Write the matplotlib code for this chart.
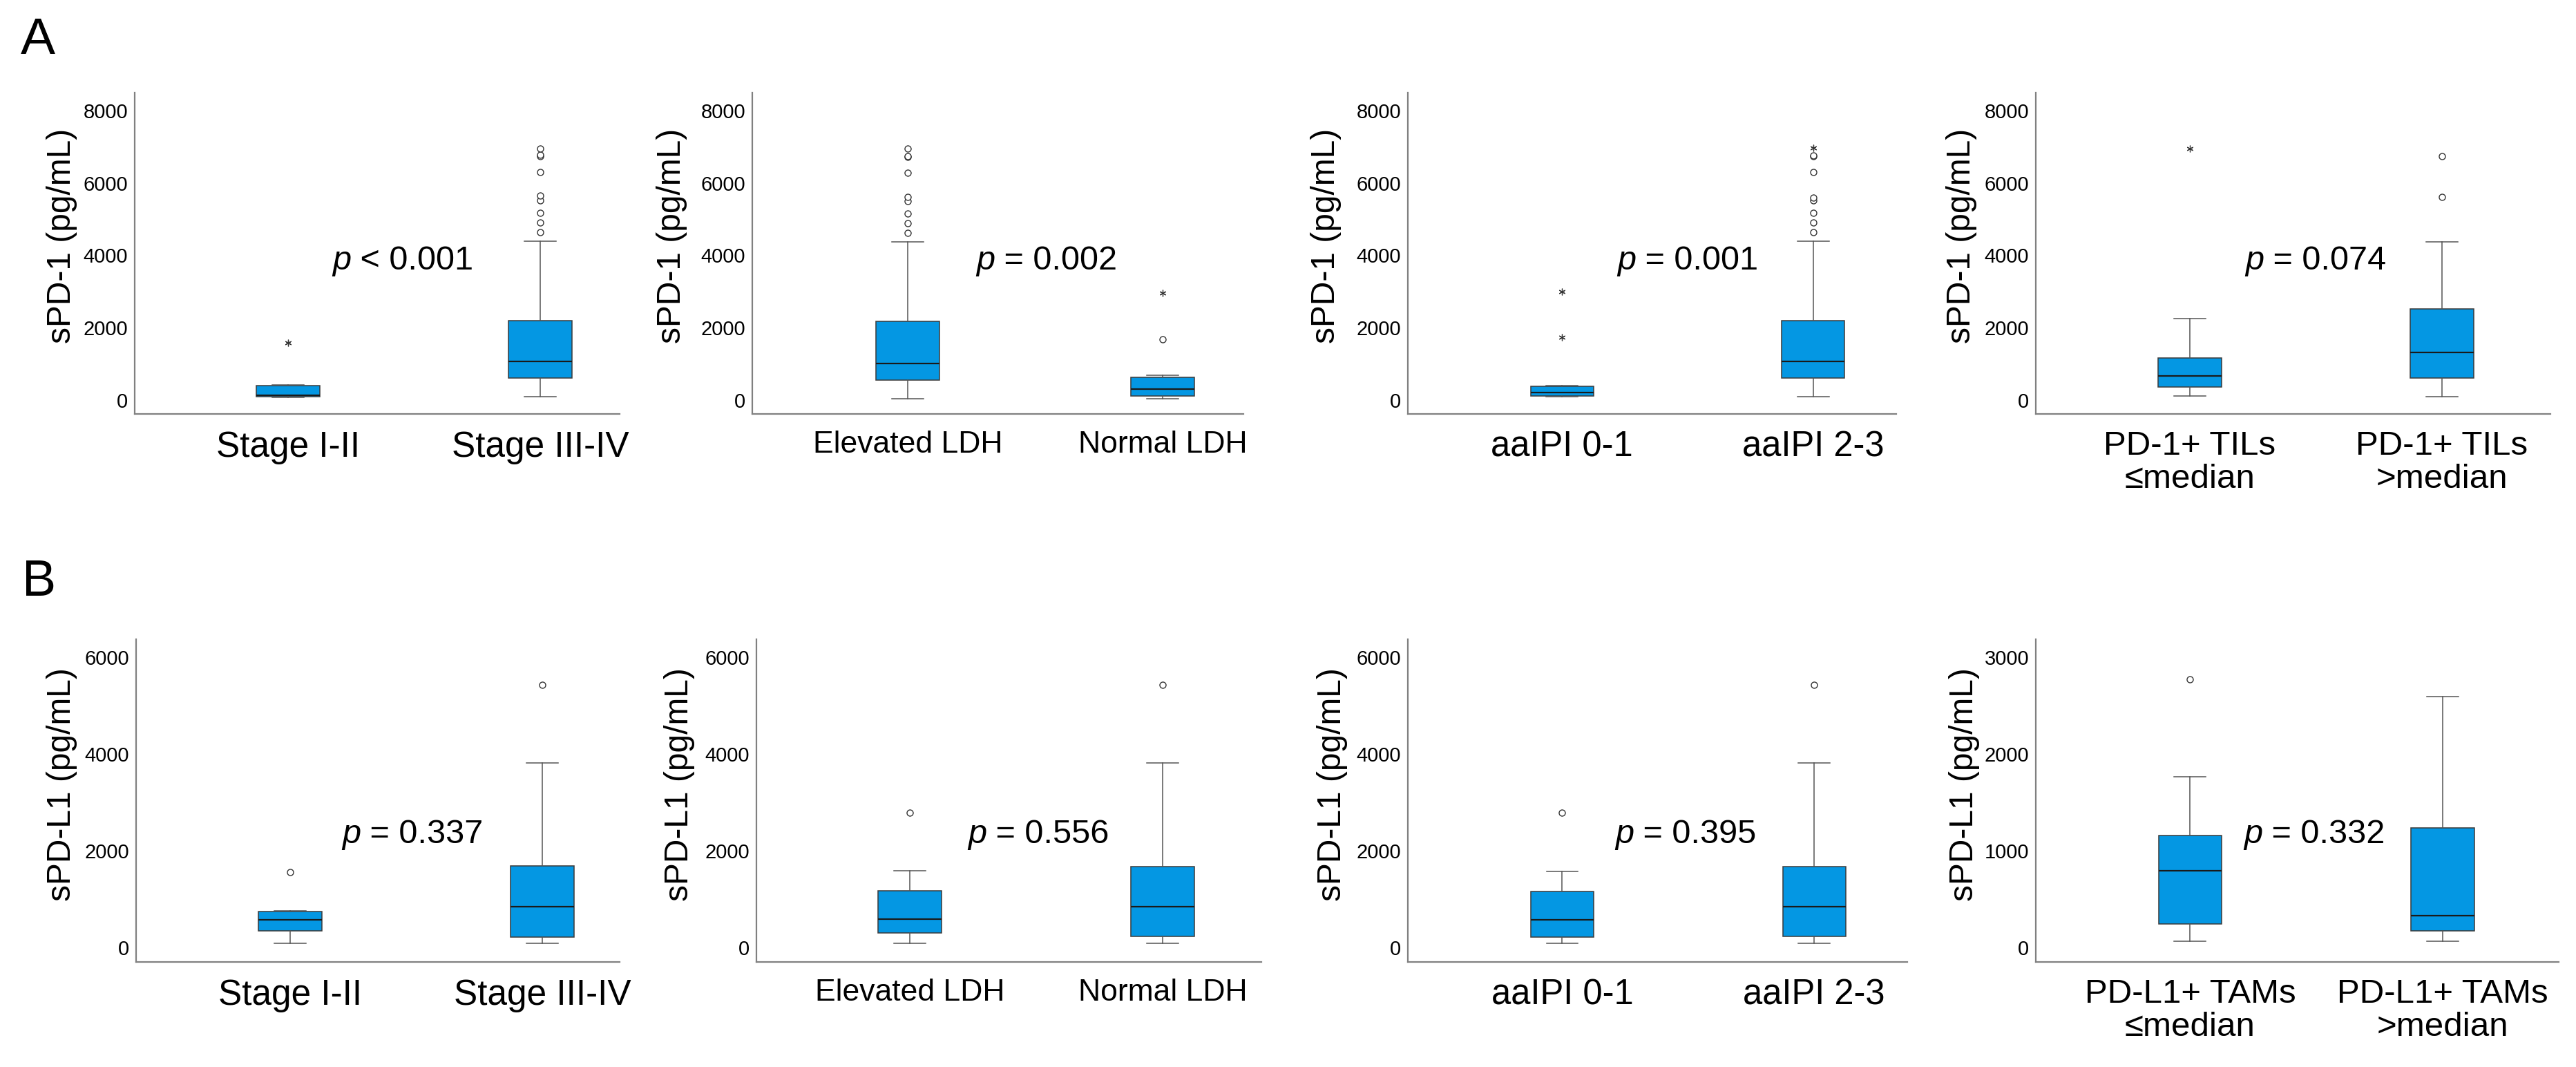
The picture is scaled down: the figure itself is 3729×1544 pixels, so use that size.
import matplotlib
matplotlib.use('Agg')
import matplotlib.pyplot as plt

W, H = 3729, 1544
plt.rcParams['font.family'] = ['Liberation Sans', 'DejaVu Sans']

# ---- values ----
# each box: [lower whisker, q1, median, q3, upper whisker]
stage_labels = ['Stage I-II', 'Stage III-IV']
ldh_labels = ['Elevated LDH', 'Normal LDH']
ipi_labels = ['aaIPI 0-1', 'aaIPI 2-3']
tils_labels = ['PD-1+ TILs\n≤median', 'PD-1+ TILs\n>median']
tams_labels = ['PD-L1+ TAMs\n≤median', 'PD-L1+ TAMs\n>median']

# A: sPD-1
a_stage_box = [[79, 96, 140, 394, 411], [88, 613, 1068, 2197, 4394]]
a_stage_out = [[], [4639, 4910, 5182, 5523, 5646, 6293, 6740, 6783, 6958]]
a_stage_ext = [[1575], []]

a_ldh_box = [[40, 560, 1015, 2171, 4376], [40, 123, 306, 639, 691]]
a_ldh_out = [[4613, 4884, 5164, 5505, 5619, 6276, 6720, 6745, 6958], [1680]]
a_ldh_ext = [[], [2958]]

a_ipi_box = [[88, 105, 219, 376, 394], [88, 613, 1068, 2197, 4394]]
a_ipi_out = [[], [4639, 4910, 5182, 5514, 5602, 6293, 6731, 6766]]
a_ipi_ext = [[1733, 3002], [6976]]

a_tils_box = [[105, 359, 665, 1155, 2249], [88, 613, 1313, 2512, 4376]]
a_tils_out = [[], [5619, 6748]]
a_tils_ext = [[6958], []]

# B: sPD-L1
b_stage_box = [[86, 343, 565, 744, 758], [86, 215, 844, 1681, 3819]]
b_stage_out = [[1559], [5435]]

b_ldh_box = [[86, 300, 579, 1166, 1588], [86, 229, 844, 1666, 3819]]
b_ldh_out = [[2789], [5435]]

b_ipi_box = [[86, 215, 565, 1151, 1566], [86, 229, 844, 1666, 3819]]
b_ipi_out = [[2789], [5435]]

b_tams_box = [[64, 240, 794, 1155, 1763], [64, 168, 329, 1234, 2592]]
b_tams_out = [[2775], []]

p_values = ['< 0.001', '= 0.002', '= 0.001', '= 0.074',
            '= 0.337', '= 0.556', '= 0.395', '= 0.332']

BOX_COLOR = '#0497e3'
EDGE = '#3a3a3a'


def px(x, y):
    return x / W, 1 - y / H


def draw_panel(fig, rect, xlim, ylim, yticks, boxes, outs, exts, cats, cat_size,
               ylabel, ylab_xy, ptext, p_xy):
    left, top, right, bottom = rect
    ax = fig.add_axes([left / W, 1 - bottom / H, (right - left) / W, (bottom - top) / H])

    stats = []
    for b, o in zip(boxes, outs):
        stats.append(dict(whislo=b[0], q1=b[1], med=b[2], q3=b[3], whishi=b[4], fliers=o))
    ax.bxp(stats, positions=[1, 2], widths=0.25, capwidths=0.125, patch_artist=True,
           boxprops=dict(facecolor=BOX_COLOR, edgecolor=EDGE, linewidth=1.1),
           medianprops=dict(color='#1a1a1a', linewidth=1.6),
           whiskerprops=dict(color='#555555', linewidth=1.1),
           capprops=dict(color='#555555', linewidth=1.1),
           flierprops=dict(marker='o', markerfacecolor='white', markeredgecolor='#333333',
                           markersize=6.5, markeredgewidth=1.0))
    # extreme values drawn as asterisks
    for i, e in enumerate(exts):
        if e:
            ax.plot([i + 1] * len(e), e, linestyle='none', marker=(6, 2, 0),
                    color='#333333', markersize=7, markeredgewidth=0.9)

    ax.set_xlim(*xlim)
    ax.set_ylim(*ylim)
    ax.set_yticks(yticks)
    ax.set_xticks([1, 2])
    ax.set_xticklabels(cats, fontsize=cat_size, linespacing=1.1)
    ax.tick_params(axis='y', length=0, pad=7, labelsize=21)
    ax.tick_params(axis='x', length=0, pad=17)
    for s in ['top', 'right']:
        ax.spines[s].set_visible(False)
    for s in ['left', 'bottom']:
        ax.spines[s].set_color('#808080')
        ax.spines[s].set_linewidth(1.6)

    ax.set_ylabel(ylabel, fontsize=34.5)
    lx, ly = ylab_xy
    ax.yaxis.set_label_coords((lx - left) / (right - left), (bottom - ly) / (bottom - top))

    # italic p followed by the regular rest of the text
    t = fig.text(*px(*p_xy), 'p', style='italic', fontsize=35, va='baseline', ha='left')
    ax.annotate(' ' + ptext, xy=(1, 0), xycoords=t, va='bottom', ha='left', fontsize=35)
    return ax


fig = plt.figure(figsize=(W / 100, H / 100), dpi=100)

a_lim = (-382, 8496)
a_ticks = [0, 2000, 4000, 6000, 8000]
b_lim = (-300, 6371)
b_ticks = [0, 2000, 4000, 6000]

draw_panel(fig, (195, 134, 897, 599), (0.392, 2.315), a_lim, a_ticks,
           a_stage_box, a_stage_out, a_stage_ext, stage_labels, 37,
           'sPD-1 (pg/mL)', (112, 341), p_values[0], (481, 390))
draw_panel(fig, (1089, 134, 1800, 599), (0.39, 2.317), a_lim, a_ticks,
           a_ldh_box, a_ldh_out, a_ldh_ext, ldh_labels, 32,
           'sPD-1 (pg/mL)', (995, 341), p_values[1], (1413, 390))
draw_panel(fig, (2038, 134, 2745, 599), (0.387, 2.33), a_lim, a_ticks,
           a_ipi_box, a_ipi_out, a_ipi_ext, ipi_labels, 36.5,
           'sPD-1 (pg/mL)', (1942, 341), p_values[2], (2341, 390))
draw_panel(fig, (2947, 134, 3692, 599), (0.389, 2.43), a_lim, a_ticks,
           a_tils_box, a_tils_out, a_tils_ext, tils_labels, 35.5,
           'sPD-1 (pg/mL)', (2862, 341), p_values[3], (3250, 390))

draw_panel(fig, (197, 925, 897, 1392), (0.389, 2.307), b_lim, b_ticks,
           b_stage_box, b_stage_out, [[], []], stage_labels, 37,
           'sPD-L1 (pg/mL)', (112, 1135), p_values[4], (495, 1220))
draw_panel(fig, (1095, 925, 1826, 1392), (0.393, 2.39), b_lim, b_ticks,
           b_ldh_box, b_ldh_out, [[], []], ldh_labels, 32,
           'sPD-L1 (pg/mL)', (1006, 1135), p_values[5], (1401, 1220))
draw_panel(fig, (2038, 925, 2761, 1392), (0.387, 2.37), b_lim, b_ticks,
           b_ipi_box, b_ipi_out, [[], []], ipi_labels, 36.5,
           'sPD-L1 (pg/mL)', (1951, 1135), p_values[6], (2338, 1220))
draw_panel(fig, (2947, 925, 3704, 1392), (0.389, 2.46), (-150, 3186), [0, 1000, 2000, 3000],
           b_tams_box, b_tams_out, [[], []], tams_labels, 35.5,
           'sPD-L1 (pg/mL)', (2866, 1135), p_values[7], (3248, 1220))

fig.text(*px(30, 78), 'A', fontsize=54, va='baseline', ha='left')
fig.text(*px(32, 862), 'B', fontsize=53, va='baseline', ha='left')

fig.savefig('out.png', dpi=100, facecolor='white')
